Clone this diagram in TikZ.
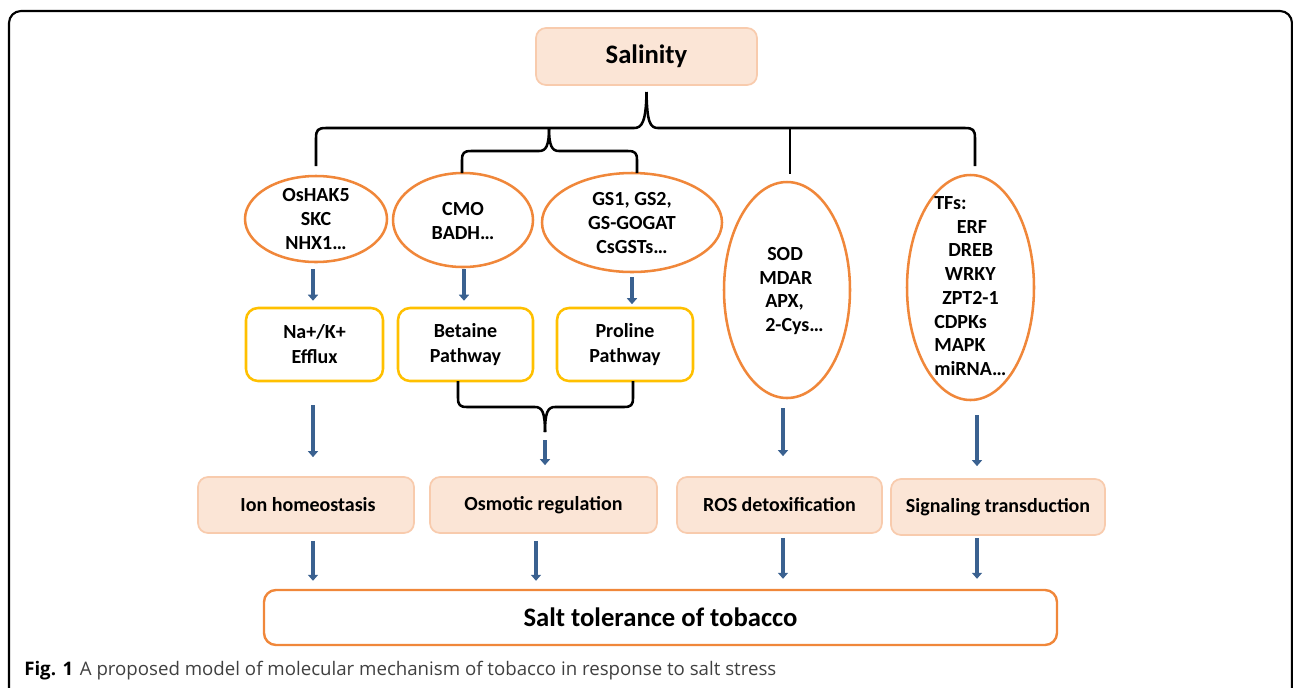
\documentclass[tikz,border=0pt]{standalone}
\usepackage{fontspec}
\setmainfont{Carlito}
\newfontfamily\capfont{Open Sans}
\usetikzlibrary{shapes.geometric,arrows.meta,calc}
\definecolor{peach}{HTML}{FBE5D6}
\definecolor{peachb}{HTML}{F8CBAD}
\definecolor{orng}{HTML}{F0873A}
\definecolor{ylw}{HTML}{FFC000}
\definecolor{blu}{HTML}{3A6190}
\begin{document}
\begin{tikzpicture}[x=0.75pt,y=-0.75pt,
  wh/.style 2 args={minimum width=#1*0.75pt,minimum height=#2*0.75pt},
  bodyfont/.style={font=\fontsize{15}{18}\selectfont\bfseries},
  pbox/.style={draw=peachb,fill=peach,line width=1.3pt,rounded corners=7.5pt,inner sep=0pt,bodyfont},
  ybox/.style={draw=ylw,line width=1.9pt,rounded corners=9pt,inner sep=0pt,align=center,font=\fontsize{15}{18.7}\selectfont\bfseries},
  obox/.style={draw=orng,line width=1.8pt,rounded corners=9pt,inner sep=0pt,font=\fontsize{20}{24}\selectfont\bfseries},
  ell/.style={draw=orng,line width=1.9pt,ellipse,inner sep=0pt},
  txt/.style={align=center,inner sep=0pt,bodyfont},
  ltxt/.style={align=left,inner sep=0pt,anchor=west,font=\fontsize{15}{17.8}\selectfont\bfseries},
  brace/.style={line width=1.9pt},
  arr/.style={draw=blu,line width=3pt,-{Triangle[width=7.5pt,length=4.5pt]}}
]
\useasboundingbox (0,0) rectangle (1293,687);
% frame
\draw[line width=1.6pt,rounded corners=9pt] (9,700) -- (9,11) -- (1292,11) -- (1292,700);

% top
\node[pbox,wh={221}{57},font=\fontsize{20}{24}\selectfont\bfseries] (sal) at (646.5,56.5) {\raisebox{-1.5pt}{Salinity}};

% ellipses
\node[ell,wh={142}{86}] (osh) at (316,219) {};
\node[ell,wh={140}{94}] (cmo) at (463,220) {};
\node[ell,wh={180}{99}] (gs) at (632,222.5) {};
\node[ell,wh={126}{216}] (ros) at (787,290) {};
\node[ell,wh={127}{225}] (tfs) at (970.5,287.5) {};

\node[txt] (osht) at (osh) {OsHAK5\\SKC\\NHX1…};
\node[txt] (cmot) at ($(cmo)+(0,1.5)$) {CMO\\BADH…};
\node[txt] (gst) at ($(gs)+(0,0.5)$) {GS1, GS2,\\GS-GOGAT\\CsGSTs…};
\node[ltxt] (rost) at (759,291) {\hspace*{6pt}SOD\\MDAR\\\hspace*{4.5pt}APX,\\\hspace*{4.5pt}2-Cys…};
\node[ltxt] (tfst) at (934,286) {TFs:\\\hspace*{17pt}ERF\\\hspace*{10.5pt}DREB\\\hspace*{8pt}WRKY\\\hspace*{6pt}ZPT2-1\\CDPKs\\MAPK\\miRNA…};

% braces
\draw[brace] (316,166) -- (316,138) .. controls (316,130) and (318,128) .. (326,128) -- (634,128)
  .. controls (642,128) and (646,122) .. (sal.south |- 0,92);
\draw[brace] (sal.south |- 0,92) .. controls (647,122) and (650,128) .. (658,128) -- (965,128)
  .. controls (973,128) and (975,130) .. (975,138) -- (975,166);
\draw[brace] (790,128) -- (790,174);
\draw[brace] (462,173) -- (462,160) .. controls (462,153) and (464,151) .. (471,151) -- (539,151)
  .. controls (546,151) and (549,146) .. (549,128);
\draw[brace] (549,128) .. controls (549,146) and (552,151) .. (559,151) -- (628,151)
  .. controls (635,151) and (637,153) .. (637,160) -- (637,173);

% yellow boxes
\node[ybox,wh={137}{73}] (na) at (314.5,344.5) {Na+/K+\\Efflux};
\node[ybox,wh={135}{73}] (bet) at (465.5,344.5) {Betaine\\Pathway};
\node[ybox,wh={136}{73}] (pro) at (625,344.5) {Proline\\Pathway};

\draw[brace] (458,381) -- (458,398) .. controls (458,405) and (460,407) .. (467,407) -- (535,407)
  .. controls (542,407) and (545,412) .. (545,432);
\draw[brace] (545,432) .. controls (545,412) and (548,407) .. (555,407) -- (624,407)
  .. controls (631,407) and (633,405) .. (633,398) -- (633,381);
\coordinate (bcusp) at (545,432);

% peach boxes
\node[pbox,wh={216}{56}] (ion) at (306,505) {\hspace*{3pt}Ion homeostasis};
\node[pbox,wh={227}{56}] (osm) at (543.5,505) {Osmotic regulation};
\node[pbox,wh={205}{56}] (rosd) at (779.5,505) {ROS detoxification};
\node[pbox,wh={214}{56}] (sig) at (998,507) {Signaling transduction};

\node[obox,wh={793}{55}] (salt) at (660.5,617.5) {Salt tolerance of tobacco};

% arrows
\draw[arr] ($(osh.south)+(-3,6)$) -- ($(na.north)+(-1.5,-6)$);
\draw[arr] ($(cmo.south)+(1,1)$) -- ($(bet.north)+(-1.5,-6)$);
\draw[arr] ($(gs.south)+(0,4)$) -- ($(pro.north)+(7,-2.5)$);
\draw[arr] ($(na.south)+(-1.5,23)$) -- ($(ion.north)+(7,-19)$);
\draw[arr] ($(bcusp)+(0,8)$) -- ($(osm.north)+(1.5,-11)$);
\draw[arr] ($(ros.south)+(-4,9)$) -- ($(rosd.north)+(3.5,-20)$);
\draw[arr] ($(tfs.south)+(6.5,14)$) -- ($(sig.north)+(-21,-12)$);
\draw[arr] ($(ion.south)+(7,7)$) -- ($(salt.north)+(-347.5,-8)$);
\draw[arr] ($(osm.south)+(-7.5,7)$) -- ($(salt.north)+(-124.5,-8)$);
\draw[arr] ($(rosd.south)+(3.5,4)$) -- ($(salt.north)+(122.5,-10)$);
\draw[arr] ($(sig.south)+(-21,2)$) -- ($(salt.north)+(316.5,-10)$);

% caption
\node[anchor=base west,inner sep=0pt,font=\capfont\fontsize{14}{17}\selectfont] (cap) at (24,675)
  {\textbf{Fig. 1}\hspace{5pt}\textcolor{black!75}{A proposed model of molecular mechanism of tobacco in response to salt stress}};
\end{tikzpicture}
\end{document}
